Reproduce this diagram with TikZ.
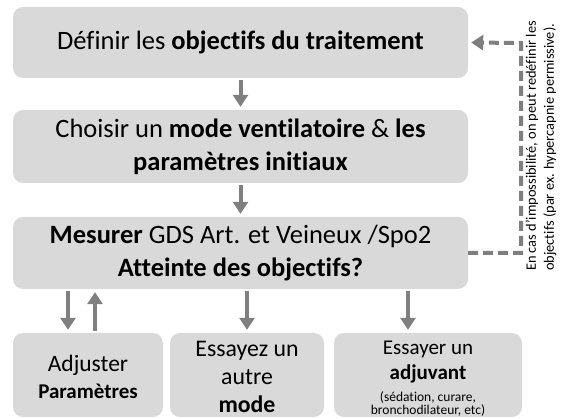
\documentclass[tikz,border=0pt]{standalone}
\usepackage{fontspec}
\setmainfont{Carlito}[Ligatures={TeX,NoCommon}]
\usepackage{xcolor}
\usetikzlibrary{arrows.meta}
\definecolor{boxgray}{HTML}{D9D9D9}
\definecolor{arrowgray}{HTML}{7F7F7F}

\begin{document}
\begin{tikzpicture}[x=1pt, y=-1pt,
        box/.style={rectangle, rounded corners=10pt, fill=boxgray, align=center, inner sep=0pt},
        mainbox/.style={box, minimum width=455pt, font=\fontsize{26.5}{33}\selectfont},
        smallbox/.style={box, minimum height=84pt},
        arr/.style={arrowgray, line width=4pt, -{Triangle[width=15pt,length=12pt]}, shorten >=3pt, shorten <=2pt},
        dasharr/.style={arr, dash pattern=on 10pt off 5pt}]

        \useasboundingbox (0,0) rectangle (565,419);

        % ---------- Main column ----------
        \node[mainbox, minimum height=71pt] (objectifs) at (240.5,42.5) {D\'efinir les \textbf{objectifs du traitement}};
        \node[mainbox, minimum height=73pt] (choisir) at (240.5,146.5) {Choisir un \textbf{mode ventilatoire} \& \textbf{les}\\\textbf{param\`etres initiaux}};
        \node[mainbox, minimum height=72pt] (mesurer) at (240.5,253) {\textbf{Mesurer} GDS Art. et Veineux /Spo2\\\textbf{Atteinte des objectifs?}};

        \draw[arr] (objectifs) -- (choisir);
        \draw[arr] (choisir) -- (mesurer);

        % ---------- Bottom row ----------
        \node[smallbox, minimum width=150pt, font=\fontsize{23.5}{27}\selectfont] (adjuster) at (88,375) {\rule{0pt}{19.5pt}Adjuster\\{\fontsize{21}{27}\selectfont\textbf{Param\`etres}}};
        \node[smallbox, minimum width=154pt, font=\fontsize{23.8}{28}\selectfont] (autre) at (247,375) {\rule{0pt}{20pt}Essayez un\\autre\\\textbf{mode}};
        \node[smallbox, minimum width=188pt, font=\fontsize{21}{25}\selectfont] (adjuvant) at (428,375) {\rule{0pt}{21pt}Essayer un\\\textbf{adjuvant}\\[-3pt]{\fontsize{13.5}{13.5}\selectfont (s\'edation, curare,}\\[-12pt]{\fontsize{13.5}{13.5}\selectfont bronchodilateur, etc)}};

        \draw[arr] (mesurer.south -| 68,0) -- (adjuster.north -| 68,0);
        \draw[arr] (adjuster.north -| 95,0) -- (mesurer.south -| 95,0);
        \draw[arr] (mesurer.south -| autre) -- (autre);
        \draw[arr] (mesurer.south -| 408,0) -- (adjuvant.north -| 408,0);

        % ---------- Feedback loop ----------
        \coordinate (loopbot) at (521,253);
        \coordinate (looptop) at (521,43);
        \draw[dasharr, shorten <=0pt] (mesurer.east) -- (loopbot) -- (looptop) -- (objectifs.east);
        \node[rotate=90, align=left, font=\fontsize{14.4}{18}\selectfont] (note) at (541,146) {En cas d'impossibilit\'e, on peut red\'efinir les\\objectifs (par ex. hypercapnie permissive).};

\end{tikzpicture}
\end{document}
